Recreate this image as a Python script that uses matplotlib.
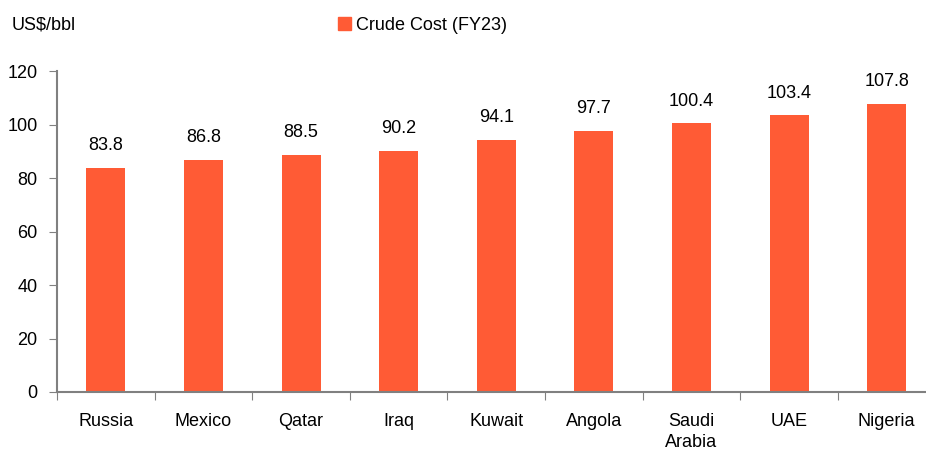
import matplotlib.pyplot as plt
from matplotlib.patches import Patch

plt.rcParams['font.family'] = ['Liberation Sans', 'DejaVu Sans']

countries = ['Russia', 'Mexico', 'Qatar', 'Iraq', 'Kuwait', 'Angola', 'Saudi\nArabia', 'UAE', 'Nigeria']
crude_cost = [83.8, 86.8, 88.5, 90.2, 94.1, 97.7, 100.4, 103.4, 107.8]
yticks = [0, 20, 40, 60, 80, 100, 120]

bar_color = '#FF5B35'
axis_color = '#808080'
fs = 13

fig = plt.figure(figsize=(9.26, 4.49), dpi=100)
# axes run slightly past the right edge, as in the reference
ax = fig.add_axes([57 / 926, 1 - 392 / 449, 878.5 / 926, 321 / 449])

x = list(range(len(countries)))
ax.bar(x, crude_cost, width=0.4, color=bar_color)

for xi, v in zip(x, crude_cost):
    ax.annotate(f'{v:.1f}', (xi, v), xytext=(0, 10), textcoords='offset points',
                ha='center', va='bottom', fontsize=fs)

ax.set_xlim(-0.5, len(countries) - 0.5)
ax.set_ylim(0, 120)
ax.set_yticks(yticks)
ax.tick_params(axis='y', direction='out', length=6, color=axis_color, labelsize=fs, pad=8)

ax.set_xticks([i - 0.5 for i in range(len(countries) + 1)])
ax.set_xticklabels([])
ax.set_xticks(x, minor=True)
ax.set_xticklabels(countries, minor=True, fontsize=fs, va='top', linespacing=1.35)
ax.tick_params(axis='x', which='major', direction='out', length=6, color=axis_color)
ax.tick_params(axis='x', which='minor', length=0, pad=15)

for side in ['top', 'right']:
    ax.spines[side].set_visible(False)
for side in ['left', 'bottom']:
    ax.spines[side].set_color(axis_color)
    ax.spines[side].set_linewidth(1.5)

fig.text(12 / 926, 1 - 25 / 449, 'US$/bbl', fontsize=fs, va='center', ha='left')
fig.legend(handles=[Patch(color=bar_color, label='Crude Cost (FY23)')],
           loc='center left', bbox_to_anchor=(322 / 926, 1 - 25 / 449), frameon=False,
           fontsize=fs, handlelength=0.7, handleheight=0.7, handletextpad=0.3)

fig.savefig('out.png', dpi=100)
